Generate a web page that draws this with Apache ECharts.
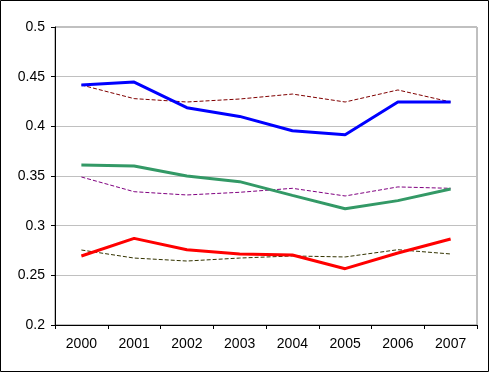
<!DOCTYPE html>
<html>
<head>
<meta charset="utf-8">
<script src="https://cdn.jsdelivr.net/npm/echarts@6/dist/echarts.min.js"></script>
<style>
html,body{margin:0;padding:0;background:#fff;}
#c{width:489px;height:372px;}
</style>
</head>
<body>
<div id="c"></div>
<script>
const years = ['2000','2001','2002','2003','2004','2005','2006','2007'];
const yTicks = [0.2, 0.25, 0.3, 0.35, 0.4, 0.45, 0.5];
const blueSeries   = [0.4416, 0.4446, 0.4188, 0.4100, 0.3956, 0.3916, 0.4245, 0.4245];
const blueRef      = [0.4416, 0.4279, 0.4245, 0.4275, 0.4325, 0.4245, 0.4366, 0.4245];
const greenSeries  = [0.3611, 0.3600, 0.3500, 0.3443, 0.3305, 0.3171, 0.3252, 0.3369];
const greenRef     = [0.3490, 0.3342, 0.3309, 0.3336, 0.3376, 0.3299, 0.3390, 0.3376];
const redSeries    = [0.2695, 0.2872, 0.2758, 0.2715, 0.2705, 0.2567, 0.2725, 0.2866];
const redRef       = [0.2755, 0.2674, 0.2644, 0.2674, 0.2695, 0.2685, 0.2758, 0.2715];

const chart = echarts.init(document.getElementById('c'), null, {renderer:'canvas'});
const font = {fontFamily:'Liberation Sans, Arial, sans-serif', fontSize:14, color:'#000'};
function dashed(data, color){
  return {type:'line', data, symbol:'none', smooth:false, silent:true,
    lineStyle:{color, width:1, type:[4,2]}, z:2};
}
function solid(data, color){
  return {type:'line', data, symbol:'none', smooth:false, silent:true,
    lineStyle:{color, width:3}, z:3};
}
chart.setOption({
  animation:false,
  backgroundColor:'#fff',
  grid:{left:55, right:12, top:27, bottom:47, show:true, borderColor:'#808080', borderWidth:1, backgroundColor:'#fff'},
  xAxis:{type:'category', data:years, boundaryGap:true,
    axisLine:{lineStyle:{color:'#000', width:1}},
    axisTick:{show:true, length:4, inside:false, lineStyle:{color:'#000'}},
    axisLabel:Object.assign({margin:12, interval:0}, font),
    splitLine:{show:false}},
  yAxis:{type:'value', min:0.2, max:0.5, interval:0.05,
    axisLine:{show:true, lineStyle:{color:'#000', width:1}},
    axisTick:{show:true, length:4, lineStyle:{color:'#000'}},
    axisLabel:Object.assign({margin:10, formatter:v=>{
      const t = yTicks.find(x=>Math.abs(x-v)<1e-9);
      return t===undefined ? '' : String(t);
    }}, font),
    splitLine:{show:true, lineStyle:{color:'#C0C0C0', width:1}}},
  graphic:[{type:'rect', shape:{x:0.5, y:0.5, width:488, height:371}, style:{fill:'none', stroke:'#000', lineWidth:1}, z:100, silent:true}],
  series:[
    dashed(blueRef, '#800000'),
    dashed(greenRef, '#800080'),
    dashed(redRef, '#333300'),
    solid(blueSeries, '#0000FF'),
    solid(greenSeries, '#339966'),
    solid(redSeries, '#FF0000')
  ]
});
</script>
</body>
</html>
